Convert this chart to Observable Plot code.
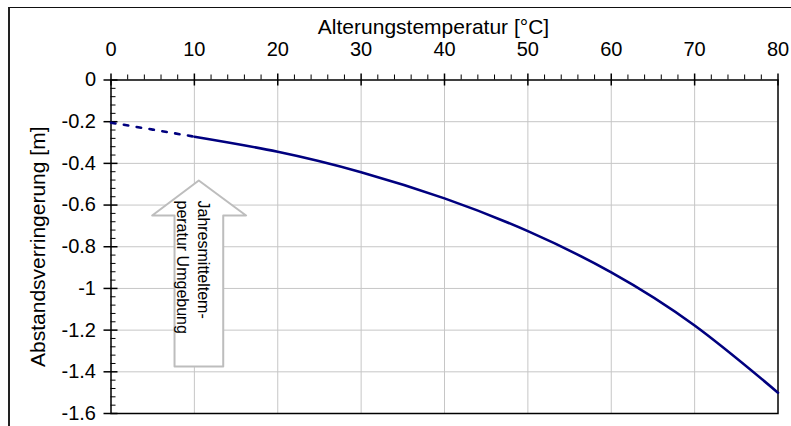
<!DOCTYPE html>
<html>
<head>
<meta charset="utf-8">
<script src="https://cdn.jsdelivr.net/npm/d3@7"></script>
<script src="https://cdn.jsdelivr.net/npm/@observablehq/plot@0.6"></script>
<style>
  html, body { margin: 0; padding: 0; background: #fff; }
  #wrap { position: relative; width: 791px; height: 426px; overflow: hidden; }
  #border { position: absolute; left: 8px; top: 7px; width: 900px; height: 600px;
            border-top: 1.5px solid #111; border-left: 2px solid #222; pointer-events: none; }
  svg { font-family: "Liberation Sans", Arial, sans-serif; }
</style>
</head>
<body>
<div id="wrap"><div id="border"></div></div>
<script>
// Curve: aging temperature [°C] vs distance reduction [m]
const dashedTemp  = [0, 5, 10];
const dashedValue = [-0.205, -0.238, -0.272];
const solidTemp   = [10, 20, 30, 40, 50, 60, 70, 80];
const solidValue  = [-0.272, -0.344, -0.442, -0.568, -0.725, -0.923, -1.178, -1.50];

// Axis ticks
const xTicks = [0, 10, 20, 30, 40, 50, 60, 70, 80];
const yTicks = [0, -0.2, -0.4, -0.6, -0.8, -1, -1.2, -1.4, -1.6];
const xMinor = d3.range(0, 81, 2).filter(v => v % 10 !== 0);
const yMinor = d3.range(0, 41, 1).map(i => -i * 0.04).filter((v, i) => i % 5 !== 0);

// Annotation arrow (data coordinates) and its label
const arrowX = [10.53, 16.2, 13.46, 13.46, 7.62, 7.62, 4.94];
const arrowY = [-0.482, -0.650, -0.650, -1.375, -1.375, -0.650, -0.650];
const arrowLabel = "Jahresmitteltem-\nperatur Umgebung";

const xTitle = "Alterungstemperatur [°C]";
const yTitle = "Abstandsverringerung [m]";

const dashed = dashedTemp.map((t, i) => ({t, v: dashedValue[i]}));
const solid = solidTemp.map((t, i) => ({t, v: solidValue[i]}));
const arrow = arrowX.map((x, i) => ({x, y: arrowY[i]}));
const fmt = d => String(+d.toFixed(1));

const chart = Plot.plot({
  width: 791,
  height: 426,
  marginLeft: 110.5,
  marginRight: 13.5,
  marginTop: 79.5,
  marginBottom: 13,
  style: {fontFamily: "Liberation Sans, Arial, sans-serif", background: "transparent", color: "#000"},
  x: {domain: [0, 80]},
  y: {domain: [-1.6, 0]},
  marks: [
    // grid
    Plot.ruleX(xTicks.slice(1, -1), {stroke: "#c6c6c6", strokeWidth: 1}),
    Plot.ruleY(yTicks.slice(1, -1), {stroke: "#c6c6c6", strokeWidth: 1}),
    // arrow annotation
    Plot.line(arrow, {x: "x", y: "y", curve: "linear-closed", fill: "white", stroke: "#bdbdbd", strokeWidth: 2}),
    Plot.text([arrowLabel], {x: [10.0], y: [-0.578], text: d => d, rotate: 90, textAnchor: "start",
      lineAnchor: "middle", lineHeight: 1.35, fontSize: 16, fill: "#000"}),
    // frame
    Plot.frame({stroke: "#000", strokeWidth: 1.5}),
    // ticks
    Plot.ruleX(xTicks, {x: d => d, y1: 0, y2: 0, insetTop: -6, insetBottom: -6, stroke: "#000", strokeWidth: 1.5}),
    Plot.ruleX(xMinor, {x: d => d, y1: 0, y2: 0, insetTop: -5, insetBottom: 0, stroke: "#000", strokeWidth: 1}),
    Plot.ruleY(yTicks, {y: d => d, x1: 0, x2: 0, insetLeft: -7, insetRight: -7, stroke: "#000", strokeWidth: 1.5}),
    Plot.ruleY(yMinor, {y: d => d, x1: 0, x2: 0, insetLeft: 0, insetRight: -5, stroke: "#000", strokeWidth: 1}),
    // axes labels
    Plot.axisX(xTicks, {anchor: "top", tickSize: 0, tickPadding: 24.5, fontSize: 20, tickFormat: fmt, label: null}),
    Plot.axisY(yTicks, {anchor: "left", tickSize: 0, tickPadding: 15, fontSize: 20, tickFormat: fmt, label: null}),
    Plot.text([xTitle], {frameAnchor: "top", dx: -11, dy: -46.5, textAnchor: "middle", lineAnchor: "bottom", fontSize: 21, fill: "#000"}),
    Plot.text([yTitle], {frameAnchor: "left", dx: -73, rotate: -90, textAnchor: "middle", lineAnchor: "middle", fontSize: 21, fill: "#000"}),
    // curve
    Plot.line(dashed, {x: "t", y: "v", stroke: "#00007f", strokeWidth: 2.6, strokeDasharray: "4.5,8.5", curve: "natural"}),
    Plot.line(solid, {x: "t", y: "v", stroke: "#00007f", strokeWidth: 2.6, curve: "natural"})
  ]
});
document.getElementById("wrap").prepend(chart);
</script>
</body>
</html>
